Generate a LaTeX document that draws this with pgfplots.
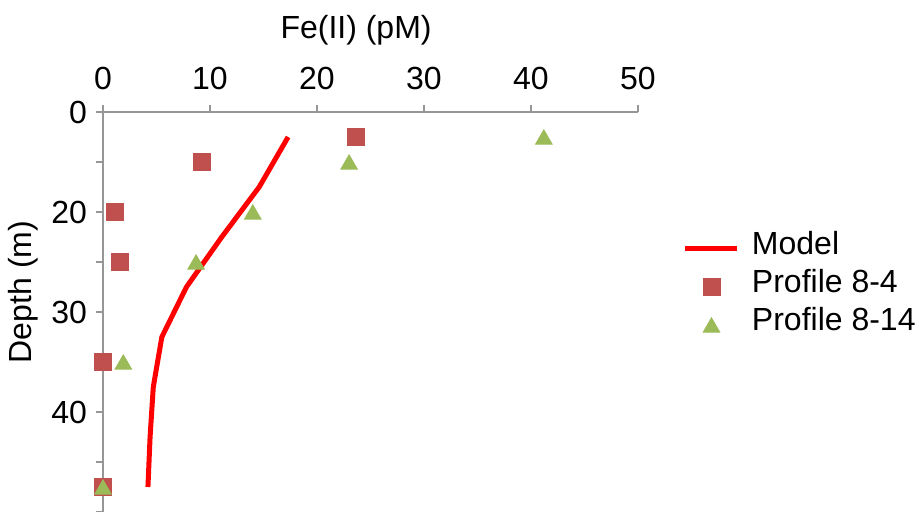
\documentclass[border=0pt]{standalone}
\usepackage{fontspec}
\setmainfont{Liberation Sans}
\usepackage{pgfplots}
\pgfplotsset{compat=1.18}
\definecolor{axgray}{RGB}{150,150,150}
\definecolor{sqred}{RGB}{192,80,77}
\definecolor{trigreen}{RGB}{155,187,89}
\begin{document}
\fontsize{16}{19}\selectfont
\begin{tikzpicture}
\begin{axis}[
  name=ax,
  scale only axis,
  width=267.5pt, height=200pt,
  xmin=0, xmax=50, ymin=10, ymax=50,
  y dir=reverse,
  axis x line*=top, axis y line*=left,
  x axis line style={-, axgray, line width=0.75pt},
  y axis line style={-, axgray, line width=0.75pt},
  xtick={0,10,...,50},
  ytick={10,15,...,50},
  yticklabels={0,,20,,30,,40,,},
  tick align=outside,
  major tick length=3.5pt,
  tick style={axgray, line width=0.75pt},
  xticklabel pos=upper,
  /pgf/number format/assume math mode=true,
  ticklabel style={font=\fontsize{16}{19}\selectfont},
  xticklabel style={yshift=2pt},
  yticklabel style={xshift=1pt},
  clip=false,
  xlabel={Fe(II) (pM)},
  xlabel style={at={(axis description cs:0.473,1.205)}, anchor=center},
  ylabel={Depth (m)},
  ylabel style={at={(axis description cs:-0.149,0.55)}, anchor=center},
  legend style={at={(axis description cs:1.0841,0.5625)}, anchor=west, draw=none, fill=none,
    inner sep=0pt, outer sep=0pt, row sep=7pt, column sep=6pt,
    nodes={inner sep=0pt, text height=9pt, text depth=3pt, anchor=west},
    font=\fontsize{16}{19}\selectfont},
  legend cell align=left,
  legend image code/.code={\draw[mark repeat=2,mark phase=2,#1] plot coordinates {(0pt,0pt) (13pt,0pt) (26pt,0pt)};},
]
\addplot[red, line width=2.5pt, no markers] coordinates {
(17.3,12.5) (14.6,17.5) (11.1,22.5) (7.8,27.5) (5.5,32.5) (4.7,37.5) (4.4,42.5) (4.2,47.5)};
\addlegendentry{Model}
\addplot[only marks, mark=square*, mark size=4.25pt, draw=sqred, fill=sqred] coordinates {
(23.6,12.5) (9.2,15) (1.1,20) (1.6,25) (0,35) (0,47.5)};
\addlegendentry{Profile 8-4}
\addplot[only marks, mark=triangle*, mark size=4.8pt, draw=trigreen, fill=trigreen, mark options={yshift=-1.2pt}] coordinates {
(41.2,12.5) (23.0,15) (14.0,20) (8.7,25) (1.9,35) (0,47.5)};
\addlegendentry{Profile 8-14}
\end{axis}
\pgfresetboundingbox
\path[use as bounding box] (ax.south west) ++(-51.5pt,0pt) rectangle ++(459.5pt,256pt);
\end{tikzpicture}
\end{document}
